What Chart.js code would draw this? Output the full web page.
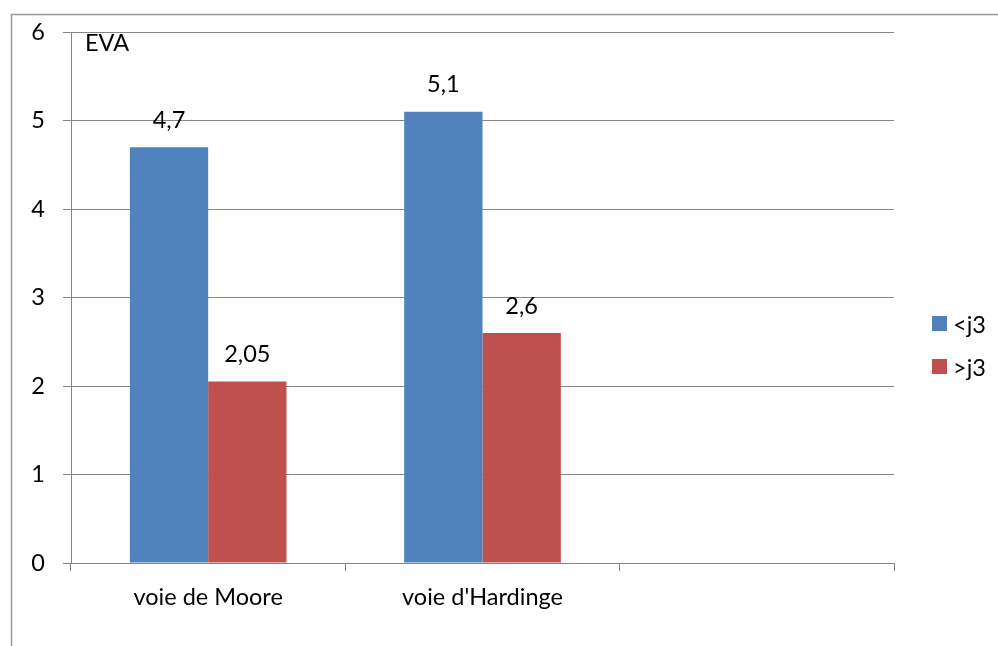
<!DOCTYPE html>
<html lang="fr">
<head>
<meta charset="utf-8">
<title>EVA</title>
<script src="https://cdn.jsdelivr.net/npm/chart.js@4/dist/chart.umd.min.js"></script>
<style>
  html, body { margin: 0; padding: 0; background: #fff; }
  #wrap { position: relative; width: 998px; height: 646px; }
  #legend { position: absolute; left: 932px; top: 302px; font: 23.5px Lato, "Open Sans", sans-serif; color: #000; }
  #legend .item { display: flex; align-items: center; height: 43px; }
  #legend .box { width: 15px; height: 15px; margin-right: 6px; }
</style>
</head>
<body>
<div id="wrap">
  <canvas id="chart" width="998" height="646"></canvas>
  <div id="legend"></div>
</div>
<script>
// ── Data ─────────────────────────────────────────────
const categories = ['voie de Moore', "voie d'Hardinge", ''];
const seriesNames = ['<j3', '>j3'];
const before3 = [4.7, 5.1, null];
const after3  = [2.05, 2.6, null];
const yTicks  = [0, 1, 2, 3, 4, 5, 6];

const FONT = 'Lato, "Open Sans", sans-serif';
const FSIZE = 23.5;
const GRID = '#868686';
const fmt = v => String(v).replace('.', ',');

// frame around the whole chart + "EVA" caption + value labels
const decor = {
  id: 'decor',
  beforeDraw(chart) {
    const c = chart.ctx;
    c.save();
    c.strokeStyle = '#999';
    c.lineWidth = 1.5;
    c.strokeRect(11.5, 14.5, 1100, 1000);
    c.restore();
  },
  afterDatasetsDraw(chart) {
    const c = chart.ctx;
    c.save();
    c.fillStyle = '#000';
    c.font = FSIZE + 'px ' + FONT;
    c.textBaseline = 'middle';
    c.textAlign = 'left';
    c.fillText('EVA', chart.chartArea.left + 14, 43);
    c.textAlign = 'center';
    chart.data.datasets.forEach((ds, i) => {
      chart.getDatasetMeta(i).data.forEach((bar, j) => {
        const v = ds.data[j];
        if (v == null) return;
        c.fillText(fmt(v), bar.x, bar.y - 27);
      });
    });
    c.restore();
  }
};

const chart = new Chart(document.getElementById('chart'), {
  type: 'bar',
  data: {
    labels: categories,
    datasets: [
      { label: seriesNames[0], data: before3, backgroundColor: '#4F81BD' },
      { label: seriesNames[1], data: after3,  backgroundColor: '#C0504D' },
    ]
  },
  options: {
    responsive: false,
    animation: false,
    events: [],
    layout: { padding: { left: 0, right: 104, top: 31, bottom: 0 } },
    datasets: { bar: { barPercentage: 1, categoryPercentage: 0.571 } },
    plugins: { legend: { display: false }, tooltip: { enabled: false } },
    scales: {
      x: {
        offset: true,
        afterFit: s => { s.height = 83; },
        grid: { offset: true, drawOnChartArea: false, drawTicks: true, tickLength: 8, color: GRID },
        border: { display: true, color: GRID },
        ticks: { color: '#000', padding: 12, font: { family: FONT, size: FSIZE } }
      },
      y: {
        min: 0, max: 6,
        afterFit: s => { s.width = 71; },
        afterBuildTicks: s => { s.ticks = yTicks.map(v => ({ value: v })); },
        grid: { color: GRID, tickLength: 8 },
        border: { display: true, color: GRID },
        ticks: { color: '#000', padding: 18, font: { family: FONT, size: FSIZE }, callback: v => fmt(v) }
      }
    }
  },
  plugins: [decor]
});

// legend next to the plot
document.getElementById('legend').innerHTML = chart.data.datasets.map(ds =>
  `<div class="item"><span class="box" style="background:${ds.backgroundColor}"></span>${ds.label.replace('<', '&lt;').replace('>', '&gt;')}</div>`
).join('');
</script>
</body>
</html>
